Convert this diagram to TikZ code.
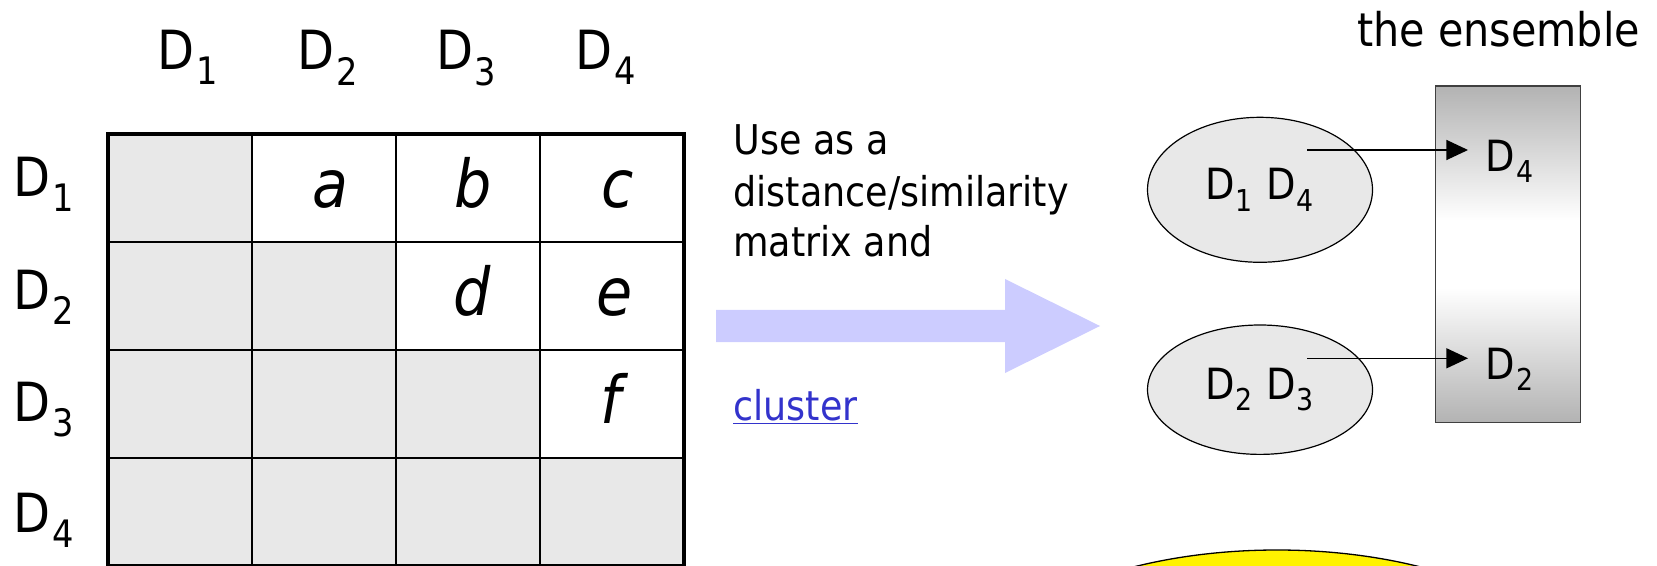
\documentclass[tikz,border=0pt]{standalone}
\usepackage{fontspec}
\setmainfont{DejaVu Sans}[FakeStretch=0.89]
\usetikzlibrary{arrows.meta,shapes.geometric}
\definecolor{cellgray}{RGB}{232,232,232}
\definecolor{arrowblue}{RGB}{204,204,255}
\definecolor{linkblue}{RGB}{51,51,204}
\definecolor{rimgray}{RGB}{64,64,64}
\pgfdeclareverticalshading{ensembleshade}{100bp}{color(0bp)=(black!30);color(25bp)=(black!30);color(45bp)=(white);color(55bp)=(white);color(75bp)=(black!30);color(100bp)=(black!30)}
\newcommand{\dn}[1]{D\kern0.03em\raisebox{-0.08em}{\textsubscript{#1}}}
\begin{document}
\begin{tikzpicture}[x=0.5pt,y=-0.5pt,
 lab/.style={inner sep=0,anchor=base,font=\fontsize{27}{32}\selectfont},
 letter/.style={inner sep=0,anchor=base,font=\fontsize{33}{40}\selectfont\itshape},
 txt/.style={inner sep=0,anchor=base west,font=\fontsize{20.5}{25}\selectfont},
 group/.style={ellipse,draw,fill=cellgray,line width=0.6pt,inner sep=0,minimum width=112.5pt,font=\fontsize{21.5}{25}\selectfont},
 link/.style={line width=0.65pt,-{Triangle[length=10.8pt,width=10pt]}}]
\useasboundingbox(0,0)rectangle(1657,566);
\clip(0,0)rectangle(1657,566);
% matrix
\foreach\r in{0,...,3}\foreach\c in{0,...,\r}\fill[cellgray]({108+144*\c},{134+108*\r})rectangle++(144,108);
\foreach\x in{252,396,540}\draw[line width=1.2pt](\x,134)--(\x,566);
\foreach\y in{242,350,458}\draw[line width=1.2pt](108,\y)--(684,\y);
\draw[line width=2.3pt](108,134)rectangle(684,566);
\foreach\n/\x in{1/188.5,2/328.5,3/466.7,4/606}\node(col\n)[lab]at(\x,70){\dn\n};
\foreach\n/\y in{1/196.7,2/309.3,3/421,4/532.7}\node(row\n)[lab,anchor=base west]at(13,\y){\dn\n};
\foreach\l/\x/\y in{a/330/207.5,b/473/207.5,c/618/207.5,d/472/315.5,e/615/315.5,f/611/423.5}\node(\l)[letter]at(\x,\y){\l};
% text and big arrow
\node(use)[txt]at(733,155){Use as a};
\node(dist)[txt]at(733,206.7){distance/similarity};
\node(mat)[txt]at(733,256.7){matrix and};
\node(clus)[txt,text=linkblue]at(733,420){\underline{cluster}};
\fill[arrowblue](716,310)--(1005,310)--(1005,279)--(1100,326)--(1005,373)--(1005,342)--(716,342)--cycle;
% clusters and the ensemble
\node(ttl)[txt,font=\fontsize{23.2}{28}\selectfont]at(1357,46.7){the ensemble};
\node(ens)[draw=rimgray,line width=0.6pt,shade,shading=ensembleshade,minimum width=72.5pt,minimum height=168.3pt,inner sep=0]at(1508.3,254.3){};
\node(g1)[group,minimum height=72.5pt]at(1260,189.8){\dn1 \dn4};
\node(g2)[group,minimum height=64.7pt]at(1260,389.7){\dn2 \dn3};
\node(e4)[txt,font=\fontsize{21.5}{25}\selectfont]at(1485,171.7){\dn4};
\node(e2)[txt,font=\fontsize{21.5}{25}\selectfont]at(1485,379.3){\dn2};
\coordinate(s1)at(1307,150);\coordinate(t1)at(1468,150);
\coordinate(s2)at(1307,358.3);\coordinate(t2)at(1468,358.3);
\draw[link](s1)--(t1);
\draw[link](s2)--(t2);
\draw[fill=yellow,line width=0.65pt](1277,710)ellipse(320 and 160);
\end{tikzpicture}
\end{document}
